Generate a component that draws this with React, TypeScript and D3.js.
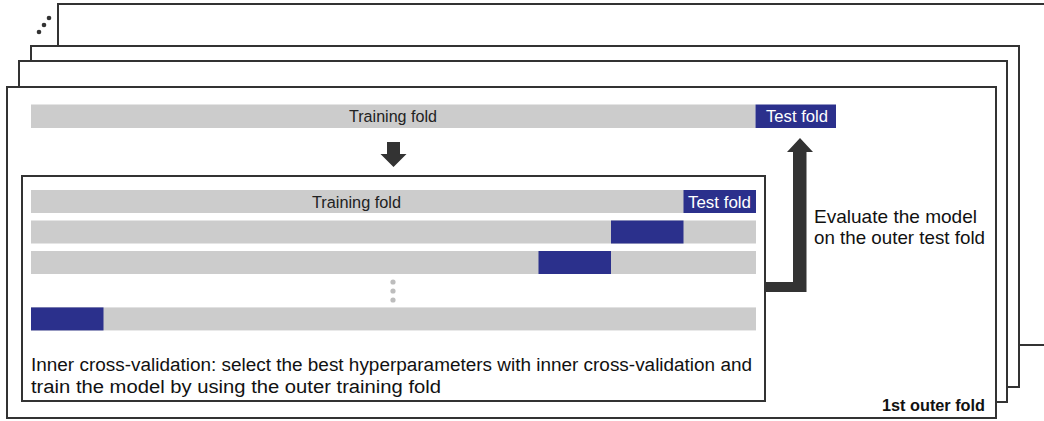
import React, { useEffect, useRef } from "react";
import * as d3 from "d3";

// diagram content
const foldCount = 10;
const outerTestFold = 9;
const innerTestFolds = [9, 8, 7, 0]; // test fold index per inner row
const innerRowSlots = [0, 1, 2, 3.85]; // gap before the last row for the ellipsis
const ellipsisSlots = [0, 1, 2];
const stackDepth = [3, 2, 1, 0]; // back to front
const trainLabel = "Training fold";
const testLabel = "Test fold";
const evalLines = ["Evaluate the model", "on the outer test fold"];
const innerLines = [
  "Inner cross-validation: select the best hyperparameters with inner cross-validation and",
  "train the model by using the outer training fold",
];
const foldTitle = "1st outer fold";

const GRAY = "#cccccc";
const BLUE = "#2b308c";
const INK = "#333333";
const FONT = "'Liberation Sans', Arial, sans-serif";

// stretch text to the measured width in the reference
function fitText(sel: d3.Selection<SVGTextElement, any, any, any>, len: (d: any, i: number) => number) {
  sel.attr("textLength", len).attr("lengthAdjust", "spacingAndGlyphs");
}

function App() {
  const svgRef = useRef<SVGSVGElement>(null);

  useEffect(() => {
    const svg = d3.select(svgRef.current);
    svg.selectAll("*").remove();

    // stacked frames
    const left = d3.scaleOrdinal<number, number>().domain([0, 1, 2, 3]).range([7, 19, 31, 58]);
    const top = d3.scaleOrdinal<number, number>().domain([0, 1, 2, 3]).range([87, 61, 46, 4]);
    const right = d3.scaleOrdinal<number, number>().domain([0, 1, 2, 3]).range([996, 1007, 1019, 1060]);
    const bottom = d3.scaleOrdinal<number, number>().domain([0, 1, 2, 3]).range([418, 402, 387, 345]);

    svg.append("g")
      .selectAll("rect")
      .data(stackDepth)
      .join("rect")
      .attr("x", (d) => left(d))
      .attr("y", (d) => top(d))
      .attr("width", (d) => right(d) - left(d))
      .attr("height", (d) => bottom(d) - top(d))
      .attr("fill", "white")
      .attr("stroke", INK)
      .attr("stroke-width", 2);

    // dots for more folds
    const dotX = d3.scaleLinear().domain([0, 2]).range([39, 49]);
    const dotY = d3.scaleLinear().domain([0, 2]).range([32, 18]);
    svg.append("g")
      .selectAll("circle")
      .data([0, 1, 2])
      .join("circle")
      .attr("cx", (d) => dotX(d))
      .attr("cy", (d) => dotY(d))
      .attr("r", 2.3)
      .attr("fill", INK);

    // outer split
    const outerX = d3.scaleLinear().domain([0, foldCount]).range([31, 836]);
    const outerY = 104.5, outerH = 23.5;
    svg.append("rect")
      .attr("x", outerX(0)).attr("y", outerY)
      .attr("width", outerX(outerTestFold) - outerX(0)).attr("height", outerH)
      .attr("fill", GRAY);
    svg.append("rect")
      .attr("x", outerX(outerTestFold)).attr("y", outerY)
      .attr("width", outerX(outerTestFold + 1) - outerX(outerTestFold)).attr("height", outerH)
      .attr("fill", BLUE);
    svg.append("text")
      .attr("x", 349).attr("y", 121.5)
      .attr("font-family", FONT).attr("font-size", 16.3).attr("fill", "#222")
      .call(fitText, () => 88)
      .text(trainLabel);
    svg.append("text")
      .attr("x", 766).attr("y", 121.5)
      .attr("font-family", FONT).attr("font-size", 16.3).attr("fill", "white")
      .call(fitText, () => 62)
      .text(testLabel);

    // down arrow
    const arrow = (cx: number, tipY: number, baseY: number, tailY: number) => {
      const p = d3.path();
      p.moveTo(cx - 6.5, tailY);
      p.lineTo(cx + 6.5, tailY);
      p.lineTo(cx + 6.5, baseY);
      p.lineTo(cx + 13, baseY);
      p.lineTo(cx, tipY);
      p.lineTo(cx - 13, baseY);
      p.lineTo(cx - 6.5, baseY);
      p.closePath();
      return p.toString();
    };
    svg.append("path").attr("d", arrow(393.5, 167, 154, 142)).attr("fill", INK);

    // inner frame
    svg.append("rect")
      .attr("x", 22).attr("y", 176).attr("width", 743).attr("height", 225)
      .attr("fill", "white").attr("stroke", INK).attr("stroke-width", 2);

    const innerX = d3.scaleLinear().domain([0, foldCount]).range([31, 756]);
    const rowY = d3.scaleLinear().domain([0, 1]).range([190, 220.5]);
    const rowH = 23;
    const rows = svg.append("g")
      .selectAll("g")
      .data(innerTestFolds.map((f, i) => ({ f, slot: innerRowSlots[i], i })))
      .join("g");
    rows.append("rect")
      .attr("x", innerX(0)).attr("y", (d) => rowY(d.slot))
      .attr("width", innerX(foldCount) - innerX(0)).attr("height", rowH)
      .attr("fill", GRAY);
    rows.append("rect")
      .attr("x", (d) => innerX(d.f)).attr("y", (d) => rowY(d.slot))
      .attr("width", innerX(1) - innerX(0)).attr("height", rowH)
      .attr("fill", BLUE);
    rows.filter((d) => d.i === 0).append("text")
      .attr("x", 312).attr("y", (d) => rowY(d.slot) + 17.5)
      .attr("font-family", FONT).attr("font-size", 16.3).attr("fill", "#222")
      .call(fitText, () => 89)
      .text(trainLabel);
    rows.filter((d) => d.i === 0).append("text")
      .attr("x", 688).attr("y", (d) => rowY(d.slot) + 17.5)
      .attr("font-family", FONT).attr("font-size", 16.3).attr("fill", "white")
      .call(fitText, () => 63)
      .text(testLabel);

    // ellipsis between rows
    const ellY = d3.scaleLinear().domain([0, 2]).range([282, 300]);
    svg.append("g")
      .selectAll("circle")
      .data(ellipsisSlots)
      .join("circle")
      .attr("cx", 393).attr("cy", (d) => ellY(d))
      .attr("r", 2.6).attr("fill", "#bdbdbd");

    const innerLen = [721, 410];
    svg.append("g")
      .selectAll("text")
      .data(innerLines)
      .join("text")
      .attr("x", 31).attr("y", (d, i) => 371 + i * 21.5)
      .attr("font-family", FONT).attr("font-size", 18).attr("fill", "#111")
      .call(fitText, (d, i) => innerLen[i])
      .text((d) => d);

    // connector with up arrow
    const conn = d3.path();
    conn.moveTo(766, 282);
    conn.lineTo(793, 282);
    conn.lineTo(793, 152);
    conn.lineTo(787, 152);
    conn.lineTo(800, 138);
    conn.lineTo(813, 152);
    conn.lineTo(806.5, 152);
    conn.lineTo(806.5, 292);
    conn.lineTo(766, 292);
    conn.closePath();
    svg.append("path").attr("d", conn.toString()).attr("fill", INK);

    const evalLen = [163, 171];
    svg.append("g")
      .selectAll("text")
      .data(evalLines)
      .join("text")
      .attr("x", 814).attr("y", (d, i) => 222.5 + i * 21)
      .attr("font-family", FONT).attr("font-size", 18.5).attr("fill", "#111")
      .call(fitText, (d, i) => evalLen[i])
      .text((d) => d);

    svg.append("text")
      .attr("x", 882).attr("y", 410.5)
      .attr("font-family", FONT).attr("font-size", 16).attr("font-weight", "bold").attr("fill", "#111")
      .call(fitText, () => 103)
      .text(foldTitle);
  }, []);

  return (
    <svg
      ref={svgRef}
      width={1044}
      height={421}
      style={{ position: "absolute", left: 0, top: 0, display: "block", background: "white" }}
    />
  );
}

export default App;
